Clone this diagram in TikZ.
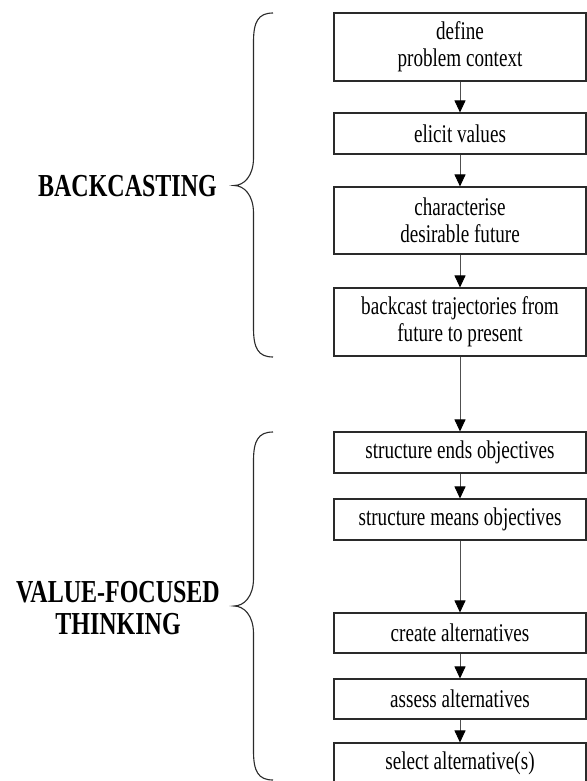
\documentclass[tikz,border=0pt]{standalone}
\usepackage{fontspec}
\setmainfont{Liberation Serif}
\newfontfamily\stepfont[FakeStretch=0.75]{Liberation Serif}
\usetikzlibrary{arrows.meta}
\definecolor{edgegray}{HTML}{2A2A2A}
\definecolor{linkgray}{HTML}{505050}
\tikzset{
  stepbox/.style={draw=edgegray, line width=1.1pt, rectangle, minimum width=252pt,
    inner sep=0pt, align=center, font=\stepfont\fontsize{25.5}{27}\selectfont},
  link/.style={draw=linkgray, line width=0.9pt,
    -{Triangle[length=12pt,width=11pt,color=black]}},
  brace/.style={draw=edgegray, line width=1.1pt},
  phase/.style={align=center, font=\stepfont\bfseries\fontsize{32}{32.5}\selectfont}
}
\begin{document}
\begin{tikzpicture}[x=1pt, y=-1pt]
\useasboundingbox (0,0) rectangle (586,781);
\fill[white] (0,0) rectangle (586,781);

% backcasting steps
\node[stepbox, minimum height=68pt] (define) at (460,47) {define\\problem context};
\node[stepbox, minimum height=41pt] (elicit) at (460,133.5) {elicit values};
\node[stepbox, minimum height=67pt] (future) at (460,220.5) {characterise\\desirable future};
\node[stepbox, minimum height=68pt] (trajectories) at (460,322) {backcast trajectories from\\future to present};

% value-focused thinking steps
\node[stepbox, minimum height=41pt] (ends) at (460,452.5) {structure ends objectives};
\node[stepbox, minimum height=41pt] (means) at (460,519.5) {structure means objectives};
\node[stepbox, minimum height=40pt] (create) at (460,633) {create alternatives};
\node[stepbox, minimum height=40pt] (assess) at (460,699) {assess alternatives};
\node[stepbox, minimum height=41pt] (select) at (460,763.5) {select alternative(s)};

% flow between steps
\draw[link] (define) -- (elicit);
\draw[link] (elicit) -- (future);
\draw[link] (future) -- (trajectories);
\draw[link] (trajectories) -- (ends);
\draw[link] (ends) -- (means);
\draw[link] (means) -- (create);
\draw[link] (create) -- (assess);
\draw[link] (assess) -- (select);

% curly braces grouping the two phases
\coordinate (bTop) at (273,13);
\coordinate (bTip) at (234,185.5);
\coordinate (bBot) at (273,357);
\draw[brace] (bTop) .. controls (258,13) and (253.5,22) .. (253.5,42)
  -- (253.5,158) .. controls (253.5,176) and (244,185.5) .. (bTip)
  .. controls (244,185.5) and (253.5,195) .. (253.5,213)
  -- (253.5,328) .. controls (253.5,348) and (258,357) .. (bBot);

\coordinate (vTop) at (273,432);
\coordinate (vTip) at (234,606);
\coordinate (vBot) at (273,780);
\draw[brace] (vTop) .. controls (258,432) and (253.5,441) .. (253.5,461)
  -- (253.5,578.5) .. controls (253.5,596.5) and (244,606) .. (vTip)
  .. controls (244,606) and (253.5,615.5) .. (253.5,633.5)
  -- (253.5,751) .. controls (253.5,771) and (258,780) .. (vBot);

% phase labels
\node[phase] (backcasting) at (127.5,186) {BACKCASTING};
\node[phase] (vft) at (118,608) {VALUE-FOCUSED\\THINKING};
\end{tikzpicture}
\end{document}
